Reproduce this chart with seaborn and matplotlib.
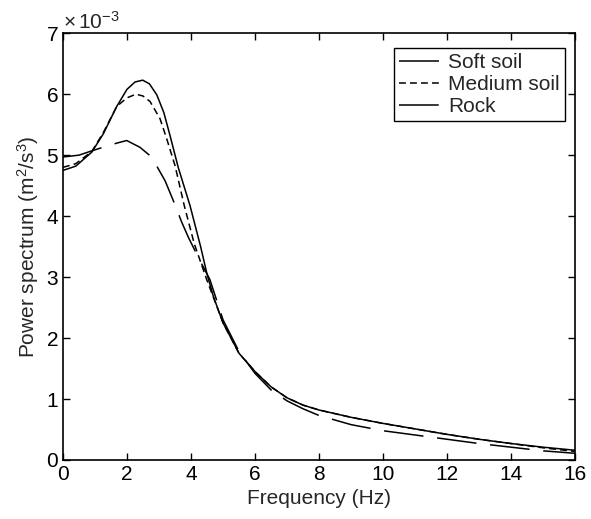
import numpy as np
import pandas as pd
import seaborn as sns
import matplotlib
matplotlib.use("Agg")
import matplotlib.pyplot as plt

freq_soft = [0, 0.4, 0.9, 1.26, 1.68, 2.0, 2.25, 2.49, 2.7, 2.93, 3.15, 3.34, 3.6, 3.97, 4.3, 4.5, 4.7, 5.0, 5.5, 6.0, 6.5, 7.0, 7.5, 8.0, 9.0, 10.0, 11.0, 12.0, 13.0, 14.0, 15.0, 16.0]
soft_soil = [4.75, 4.82, 5.05, 5.35, 5.8, 6.08, 6.2, 6.23, 6.17, 5.99, 5.7, 5.33, 4.8, 4.17, 3.5, 3.05, 2.68, 2.25, 1.75, 1.45, 1.2, 1.02, 0.9, 0.82, 0.7, 0.6, 0.51, 0.42, 0.34, 0.27, 0.21, 0.16]
freq_med = [0, 0.4, 0.9, 1.26, 1.68, 2.0, 2.28, 2.5, 2.72, 3.03, 3.24, 3.5, 3.79, 4.1, 4.49, 5.0, 5.5, 6.0, 6.5, 7.0, 7.5, 8.0, 9.0, 10.0, 11.0, 12.0, 13.0, 14.0, 15.0, 16.0]
medium_soil = [4.8, 4.86, 5.06, 5.37, 5.8, 5.94, 6.0, 5.97, 5.88, 5.6, 5.27, 4.83, 4.17, 3.55, 2.96, 2.25, 1.75, 1.45, 1.2, 1.02, 0.9, 0.82, 0.7, 0.6, 0.51, 0.42, 0.34, 0.27, 0.2, 0.14]
freq_rock = [0, 0.5, 0.84, 1.37, 1.7, 1.99, 2.4, 2.7, 2.93, 3.19, 3.45, 3.71, 3.92, 4.25, 4.59, 5.0, 5.5, 6.0, 6.5, 7.0, 7.5, 8.0, 9.0, 10.0, 11.0, 12.0, 13.0, 14.0, 15.0, 16.0]
rock = [4.97, 5.0, 5.06, 5.15, 5.2, 5.24, 5.13, 5.0, 4.82, 4.58, 4.25, 3.9, 3.65, 3.3, 2.96, 2.3, 1.78, 1.42, 1.15, 0.97, 0.84, 0.73, 0.58, 0.48, 0.41, 0.34, 0.27, 0.21, 0.15, 0.11]

sns.set_style("ticks")
plt.rcParams['font.family'] = ['Liberation Sans', 'DejaVu Sans']
plt.rcParams['mathtext.fontset'] = 'custom'
plt.rcParams['mathtext.rm'] = 'Liberation Sans'
plt.rcParams['mathtext.it'] = 'Liberation Sans'

fig = plt.figure(figsize=(5.91, 5.19), dpi=100)
ax = fig.add_axes([0.1066, 0.1137, 0.8664, 0.8223])

df = pd.concat([
    pd.DataFrame({"Frequency": freq_soft, "Power": soft_soil, "Series": "Soft soil"}),
    pd.DataFrame({"Frequency": freq_med, "Power": medium_soil, "Series": "Medium soil"}),
    pd.DataFrame({"Frequency": freq_rock, "Power": rock, "Series": "Rock"}),
])

styles = {"Soft soil": (1, 0), "Medium soil": (4.5, 2.7), "Rock": (26, 9)}
sns.lineplot(data=df, x="Frequency", y="Power", hue="Series", style="Series",
             palette={"Soft soil": "black", "Medium soil": "black", "Rock": "black"},
             dashes=styles, linewidth=1.1, ax=ax, legend=True, sort=False)

ax.set_xlim(0, 16)
ax.set_ylim(0, 7)
ax.set_xticks(range(0, 17, 2))
ax.set_yticks(range(0, 8))
ax.tick_params(direction="in", top=True, right=True, labelsize=15, length=5, width=1, colors="black")
for s in ax.spines.values():
    s.set_visible(True)
    s.set_linewidth(1.2)
    s.set_color("black")
ax.set_xlabel("Frequency (Hz)", fontsize=15)
ax.set_ylabel("Power spectrum (m$^2$/s$^3$)", fontsize=15)
ax.text(0.0, 1.0, r"$\times\,10^{-3}$", transform=ax.transAxes, fontsize=15, ha="left", va="bottom")

leg = ax.legend(loc="upper right", bbox_to_anchor=(0.98, 0.966), fontsize=15, frameon=True,
                fancybox=False, edgecolor="black", framealpha=1, handlelength=1.9,
                borderpad=0.25, labelspacing=0.15, handletextpad=0.45, borderaxespad=0)
leg.get_frame().set_linewidth(1.0)

fig.savefig("out.png", dpi=100)
